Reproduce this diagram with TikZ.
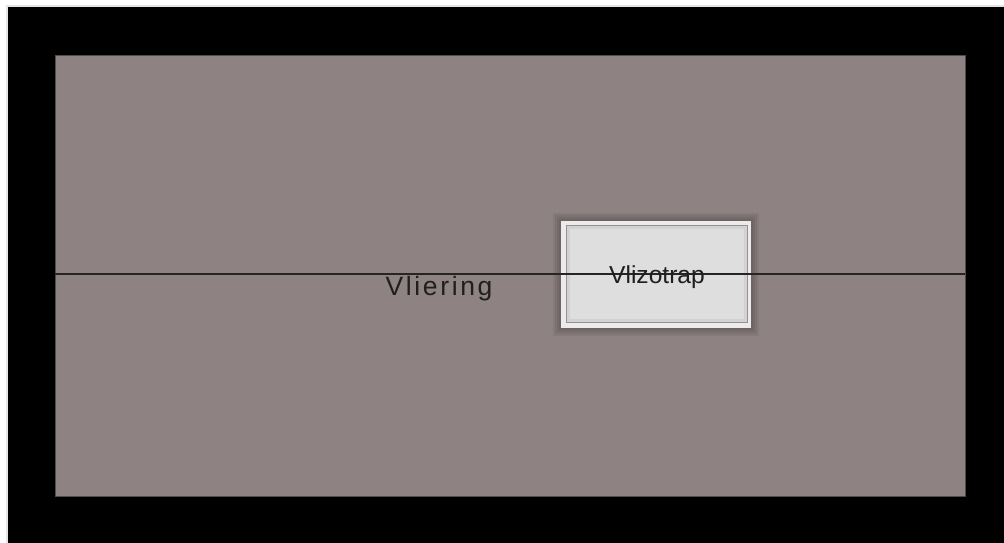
\documentclass[tikz,border=0pt]{standalone}
\usepackage{fontspec}
\setmainfont{Liberation Sans}
\newfontfamily\spacedfont[LetterSpace=10]{Liberation Sans}
\definecolor{atticgray}{RGB}{142,130,130}
\definecolor{hatchouter}{RGB}{236,234,234}
\definecolor{hatchinner}{RGB}{222,222,222}
\definecolor{hatchedge}{RGB}{150,146,146}
\definecolor{linedark}{RGB}{40,36,36}
\tikzset{
  frame/.style={fill=black, draw=none},
  floor/.style={fill=atticgray, draw=black!70, line width=0.6pt},
  hatchbox/.style={fill=hatchouter, draw=none},
  hatchpanel/.style={fill=hatchinner, draw=hatchedge, line width=1pt},
  divider/.style={draw=linedark, line width=1.6pt},
  label/.style={inner sep=0pt, text=black!88, anchor=base}
}
\begin{document}
\begin{tikzpicture}[x=1pt,y=1pt]
\useasboundingbox (0,0) rectangle (1004,543);
\fill[white] (0,0) rectangle (1004,543);
\fill[black!10] (6,0) rectangle (1004,538);
\path[frame] (8,0) rectangle (1004,536);
\path[floor] (55,47) rectangle (965,488);
% soft shadow of the hatch
\foreach \d in {8,6,4,2}{
  \fill[black, opacity=0.06] (561-\d,215-\d) rectangle (751+\d,322+\d);
}
\path[hatchbox] (561,215) rectangle (751,322);
\path[hatchpanel] (566,220) rectangle (747,317);
\foreach \d in {1,2,3}{
  \draw[black, opacity=0.05, line width=1pt] (566+\d,220+\d) rectangle (747-\d,317-\d);
}
\coordinate (L) at (55,269);
\coordinate (R) at (965,269);
\draw[divider] (L) -- (R);
\node[label, font=\fontsize{24.6}{28}\selectfont] (trap) at (657,259.7) {Vlizotrap};
\node[label, font=\fontsize{26.5}{30}\spacedfont] (vliering) at (439,247) {Vliering};
\end{tikzpicture}
\end{document}
